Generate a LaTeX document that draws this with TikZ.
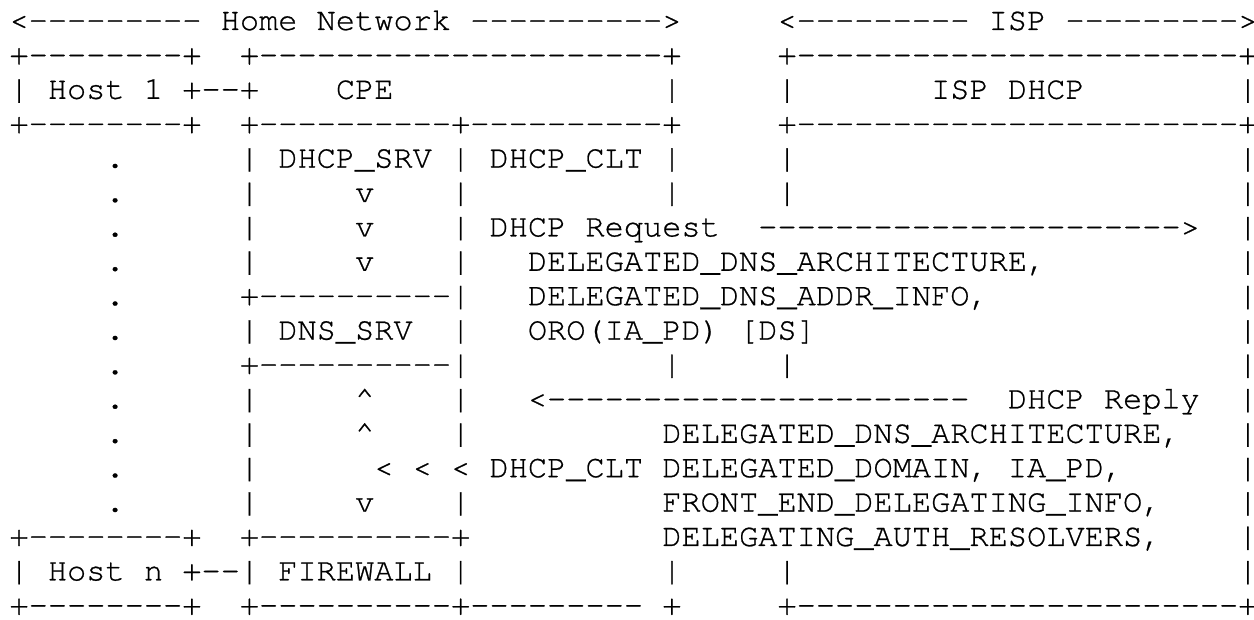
\documentclass[tikz,border=0pt]{standalone}
\usepackage{fontspec}
\setmonofont[FakeBold=0.7]{texgyrecursor-regular.otf}
\newcommand{\caretch}{\textasciicircum}
\begin{document}
\begin{tikzpicture}[x=1pt,y=1pt,
  asciiline/.style={anchor=base west, inner sep=0pt, outer sep=0pt,
    font=\ttfamily\fontsize{32}{34}\selectfont, text=black}]
\fill[white] (0,0) rectangle (1254,619);
\useasboundingbox (0,0) rectangle (1254,619);
\node[asciiline] (l1) at (9.5,589) {<---------~Home~Network~---------->~~~~~<---------~ISP~--------->};
\node[asciiline] (l2) at (9.5,554.6) {+--------+~~+---------------------+~~~~~+-----------------------+};
\node[asciiline] (l3) at (9.5,520.2) {|~Host~1~+--+~~~~CPE~~~~~~~~~~~~~~|~~~~~|~~~~~~~ISP~DHCP~~~~~~~~|};
\node[asciiline] (l4) at (9.5,485.8) {+--------+~~+----------+----------+~~~~~+-----------------------+};
\node[asciiline] (l5) at (9.5,451.4) {~~~~~.~~~~~~|~DHCP\_SRV~|~DHCP\_CLT~|~~~~~|~~~~~~~~~~~~~~~~~~~~~~~|};
\node[asciiline] (l6) at (9.5,417.0) {~~~~~.~~~~~~|~~~~~v~~~~|~~~~~~~~~~|~~~~~|~~~~~~~~~~~~~~~~~~~~~~~|};
\node[asciiline] (l7) at (9.5,382.6) {~~~~~.~~~~~~|~~~~~v~~~~|~DHCP~Request~~---------------------->~~|};
\node[asciiline] (l8) at (9.5,348.2) {~~~~~.~~~~~~|~~~~~v~~~~|~~~DELEGATED\_DNS\_ARCHITECTURE,~~~~~~~~~~|};
\node[asciiline] (l9) at (9.5,313.8) {~~~~~.~~~~~~+----------|~~~DELEGATED\_DNS\_ADDR\_INFO,~~~~~~~~~~~~~|};
\node[asciiline] (l10) at (9.5,279.4) {~~~~~.~~~~~~|~DNS\_SRV~~|~~~ORO(IA\_PD)~[DS]~~~~~~~~~~~~~~~~~~~~~~|};
\node[asciiline] (l11) at (9.5,245.0) {~~~~~.~~~~~~+----------|~~~~~~~~~~|~~~~~|~~~~~~~~~~~~~~~~~~~~~~~|};
\node[asciiline] (l12) at (9.5,210.6) {~~~~~.~~~~~~|~~~~~\caretch~~~~|~~~<----------------------~~DHCP~Reply~~|};
\node[asciiline] (l13) at (9.5,176.2) {~~~~~.~~~~~~|~~~~~\caretch~~~~|~~~~~~~~~~DELEGATED\_DNS\_ARCHITECTURE,~~~|};
\node[asciiline] (l14) at (9.5,141.8) {~~~~~.~~~~~~|~~~~~~<~<~<~DHCP\_CLT~DELEGATED\_DOMAIN,~IA\_PD,~~~~~~|};
\node[asciiline] (l15) at (9.5,107.4) {~~~~~.~~~~~~|~~~~~v~~~~|~~~~~~~~~~FRONT\_END\_DELEGATING\_INFO,~~~~|};
\node[asciiline] (l16) at (9.5,73.0) {+--------+~~+----------+~~~~~~~~~~DELEGATING\_AUTH\_RESOLVERS,~~~~|};
\node[asciiline] (l17) at (9.5,38.6) {|~Host~n~+--|~FIREWALL~|~~~~~~~~~~|~~~~~|~~~~~~~~~~~~~~~~~~~~~~~|};
\node[asciiline] (l18) at (9.5,4.2) {+--------+~~+----------+---------~+~~~~~+-----------------------+};
\end{tikzpicture}
\end{document}
